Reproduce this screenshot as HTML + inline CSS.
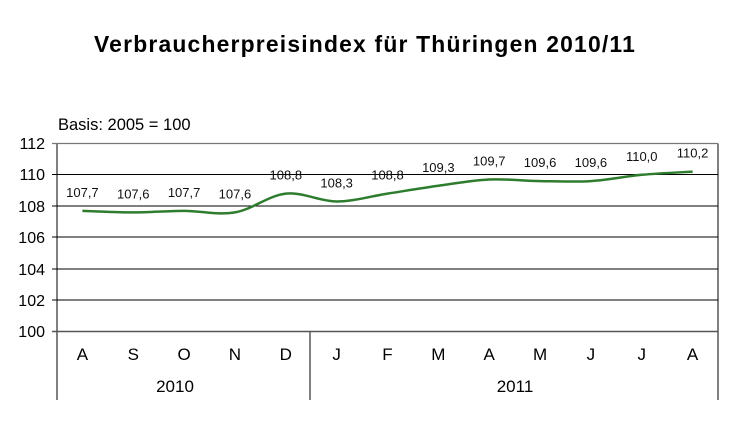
<!DOCTYPE html>
<html><head><meta charset="utf-8"><style>
body{margin:0;background:#fff;}
svg{display:block;font-family:"Liberation Sans",Arial,sans-serif;}
</style></head><body>
<svg id="s" width="740" height="443" viewBox="0 0 740 443" xmlns="http://www.w3.org/2000/svg">
<text x="365" y="52" text-anchor="middle" font-size="23" font-weight="bold" letter-spacing="1.2" textLength="542" lengthAdjust="spacingAndGlyphs">Verbraucherpreisindex für Thüringen 2010/11</text>
<text x="58" y="130" font-size="16.5">Basis:  2005 = 100</text>
<g stroke="#000" stroke-width="1">
<line x1="52" y1="174.5" x2="718" y2="174.5"/>
<line x1="52" y1="206" x2="718" y2="206"/>
<line x1="52" y1="237" x2="718" y2="237"/>
<line x1="52" y1="269" x2="718" y2="269"/>
<line x1="52" y1="300" x2="718" y2="300"/>
<line x1="57" y1="143.5" x2="57" y2="400"/>
<line x1="310" y1="331.5" x2="310" y2="400"/>
<line x1="718" y1="143.5" x2="718" y2="400"/>
</g>
<line x1="52" y1="143.5" x2="718" y2="143.5" stroke="#777" stroke-width="1.2"/>
<line x1="52" y1="331.5" x2="718" y2="331.5" stroke="#555" stroke-width="1.5"/>
<g font-size="16" text-anchor="end">
<text x="45" y="149">112</text><text x="45" y="180">110</text><text x="45" y="212">108</text>
<text x="45" y="243">106</text><text x="45" y="275">104</text><text x="45" y="306">102</text><text x="45" y="337">100</text>
</g>
<g id="m" font-size="17" text-anchor="middle"></g>
<text x="175" y="392" font-size="17" text-anchor="middle">2010</text>
<text x="515" y="392" font-size="17" text-anchor="middle">2011</text>
<path id="p" fill="none" stroke="#2e7d2e" stroke-width="2.5"/>
<g id="l" font-size="13" text-anchor="middle" fill="#111"></g>
</svg>
<script>
var v=[107.7,107.6,107.7,107.6,108.8,108.3,108.8,109.3,109.7,109.6,109.6,110.0,110.2];
var mo=["A","S","O","N","D","J","F","M","A","M","J","J","A"];
var ns="http://www.w3.org/2000/svg",pts=[];
for(var i=0;i<13;i++){var x=82.4+50.85*i,y=331.5-(v[i]-100)*15.67;pts.push([x,y]);
var t=document.createElementNS(ns,"text");t.setAttribute("x",x);t.setAttribute("y",360);t.textContent=mo[i];document.getElementById("m").appendChild(t);
var u=document.createElementNS(ns,"text");u.setAttribute("x",x);u.setAttribute("y",y-14);u.textContent=v[i].toFixed(1).replace(".",",");document.getElementById("l").appendChild(u);}
var d="M"+pts[0][0]+","+pts[0][1];
for(var i=0;i<12;i++){var p0=pts[Math.max(i-1,0)],p1=pts[i],p2=pts[i+1],p3=pts[Math.min(i+2,12)];
d+=" C"+(p1[0]+(p2[0]-p0[0])/6)+","+(p1[1]+(p2[1]-p0[1])/6)+" "+(p2[0]-(p3[0]-p1[0])/6)+","+(p2[1]-(p3[1]-p1[1])/6)+" "+p2[0]+","+p2[1];}
document.getElementById("p").setAttribute("d",d);
</script>
</body></html>
